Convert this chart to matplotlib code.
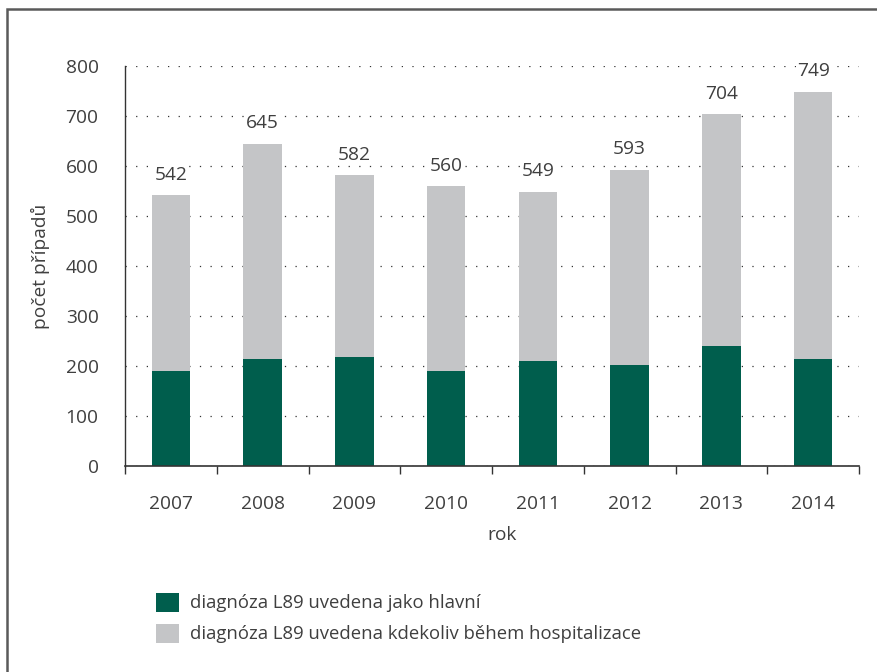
#!/usr/bin/env python3
import matplotlib

matplotlib.use("Agg")

import matplotlib.pyplot as plt
import numpy as np
from matplotlib.patches import Patch, Rectangle

years = ["2007", "2008", "2009", "2010", "2011", "2012", "2013", "2014"]
main_dx = [190, 214, 218, 190, 210, 202, 240, 214]
totals = [542, 645, 582, 560, 549, 593, 704, 749]

GREEN = "#005e4d"
GRAY = "#c4c5c7"
TEXT = "#3f3f3f"

plt.rcParams.update(
    {
        "font.family": ["Open Sans", "DejaVu Sans"],
        "font.size": 13,
        "text.color": TEXT,
        "axes.labelcolor": TEXT,
        "xtick.color": TEXT,
        "ytick.color": TEXT,
    }
)

fig = plt.figure(figsize=(8.78, 6.72), dpi=100)
ax = fig.add_axes([125 / 878, 1 - 466 / 672, (859 - 125) / 878, 400 / 672])

x = np.arange(len(years))
rest = [t - m for t, m in zip(totals, main_dx)]
ax.bar(x, main_dx, width=0.42, color=GREEN, zorder=2)
ax.bar(x, rest, width=0.42, bottom=main_dx, color=GRAY, zorder=2)

for xi, t in zip(x, totals):
    ax.annotate(str(t), (xi, t), xytext=(0, 8), textcoords="offset points",
                ha="center", va="bottom", fontsize=13.8, color=TEXT,
                bbox=dict(facecolor="white", edgecolor="none", pad=0.5), zorder=3)

ax.set_xlim(-0.5, len(years) - 0.5)
ax.set_ylim(0, 800)
ax.set_yticks(np.arange(0, 801, 100))
ax.set_xticks(x)
ax.set_xticklabels(years)
ax.set_xticks(np.arange(-0.5, len(years), 1.0), minor=True)
ax.tick_params(axis="x", which="major", length=0, pad=21, labelsize=13.8)
ax.tick_params(axis="x", which="minor", length=6, width=1.0, direction="out", color="#333333")
ax.tick_params(axis="y", length=0, pad=19, labelsize=13.8)

ax.grid(axis="y", linestyle=(0, (1, 7.5)), color="#333333", linewidth=0.9, zorder=1)
ax.spines["top"].set_visible(False)
ax.spines["right"].set_visible(False)
ax.spines["left"].set_color("#333333")
ax.spines["bottom"].set_color("#333333")
ax.spines["left"].set_linewidth(1.0)
ax.spines["bottom"].set_linewidth(1.2)

ax.set_ylabel("počet případů", fontsize=13.8, labelpad=11)
fig.text(502 / 878, 1 - 535 / 672, "rok", ha="center", va="center", fontsize=13.8)

handles = [
    Patch(facecolor=GREEN, label="diagnóza L89 uvedena jako hlavní"),
    Patch(facecolor=GRAY, label="diagnóza L89 uvedena kdekoliv během hospitalizace"),
]
fig.legend(handles=handles, loc="upper left", bbox_to_anchor=(139 / 878, 1 - 576 / 672),
           frameon=False, fontsize=13.3, handlelength=1.25, handleheight=1.2,
           handletextpad=0.6, labelspacing=0.62)

fig.patches.append(Rectangle((7 / 878, -0.05), 1.1, 1 - 9 / 672 + 0.05,
                             transform=fig.transFigure, fill=False,
                             edgecolor="#5a5a5a", linewidth=1.8))

fig.savefig("out.png", dpi=100)
